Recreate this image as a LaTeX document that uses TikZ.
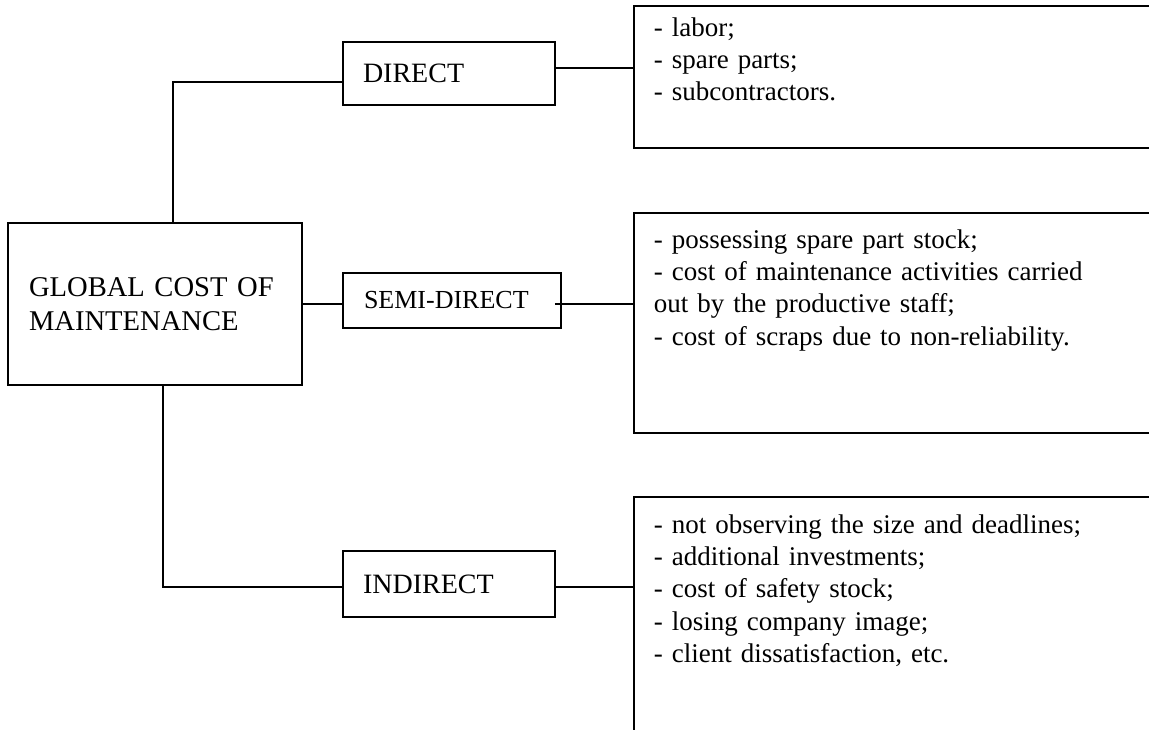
\documentclass[tikz,border=0pt]{standalone}
\usepackage{fontspec}
\setmainfont{Liberation Serif}
\begin{document}
\begin{tikzpicture}[x=0.5pt, y=-0.5pt, line width=0.8pt,
    box/.style={draw, rectangle, align=left, inner ysep=0pt, font=\fontsize{14pt}{16.1pt}\selectfont},
    listbox/.style={draw, rectangle, anchor=north west, minimum width=273.5pt, inner sep=0pt},
    listtext/.style={anchor=base west, align=left, inner sep=0pt, text width=250pt, font=\fontsize{13.5pt}{16.2pt}\selectfont}]

              \path[use as bounding box, clip] (0,0) rectangle (1149,729);

              % left box and the three kinds of cost
              \node[box, minimum width=147pt, minimum height=81pt, text width=126pt, inner xsep=10.5pt,
                    font=\fontsize{14.3pt}{17.2pt}\selectfont] (glob) at (155,304) {GLOBAL COST OF\\MAINTENANCE};
              \node[box, minimum width=106pt, minimum height=31.5pt, text width=86pt, inner xsep=10pt] (direct) at (449,73.5) {DIRECT};
              \node[box, minimum width=109pt, minimum height=27.5pt, text width=88pt, inner xsep=10.5pt,
                    font=\fontsize{13pt}{15pt}\selectfont] (semi) at (452,300.5) {SEMI-DIRECT};
              \node[box, minimum width=106pt, minimum height=33pt, text width=86pt, inner xsep=10pt] (indirect) at (449,584) {INDIRECT};

              % the lists on the right, cut off by the edge
              \node[listbox, minimum height=71pt] (list1) at (633,5) {};
              \node[listbox, minimum height=110pt] (list2) at (633,212) {};
              \node[listbox, minimum height=150pt] (list3) at (633,496) {};

              \node[listtext] (items1) at (653,36) {- labor;\\- spare parts;\\- subcontractors.};
              \node[listtext] (items2) at (653,248) {- possessing spare part stock;\\- cost of maintenance activities carried\\out by the productive staff;\\- cost of scraps due to non-reliability.};
              \node[listtext] (items3) at (653,533) {- not observing the size and deadlines;\\- additional investments;\\- cost of safety stock;\\- losing company image;\\- client dissatisfaction, etc.};

              % connectors
              \draw ([shift={(18,0)}]glob.north) |- ([shift={(0,8.5)}]direct.west);
              \draw ([shift={(0,-5.5)}]direct.east) coordinate (d1) -- (d1 -| list1.west);

              \draw (glob.east) -- (glob.east -| semi.west);
              \draw ([shift={(-7,3.5)}]semi.east) coordinate (s1) -- (s1 -| list2.west);

              \draw ([shift={(8,0)}]glob.south) |- ([shift={(0,3)}]indirect.west);
              \draw ([shift={(0,3)}]indirect.east) coordinate (i1) -- (i1 -| list3.west);

          \end{tikzpicture}
\end{document}
